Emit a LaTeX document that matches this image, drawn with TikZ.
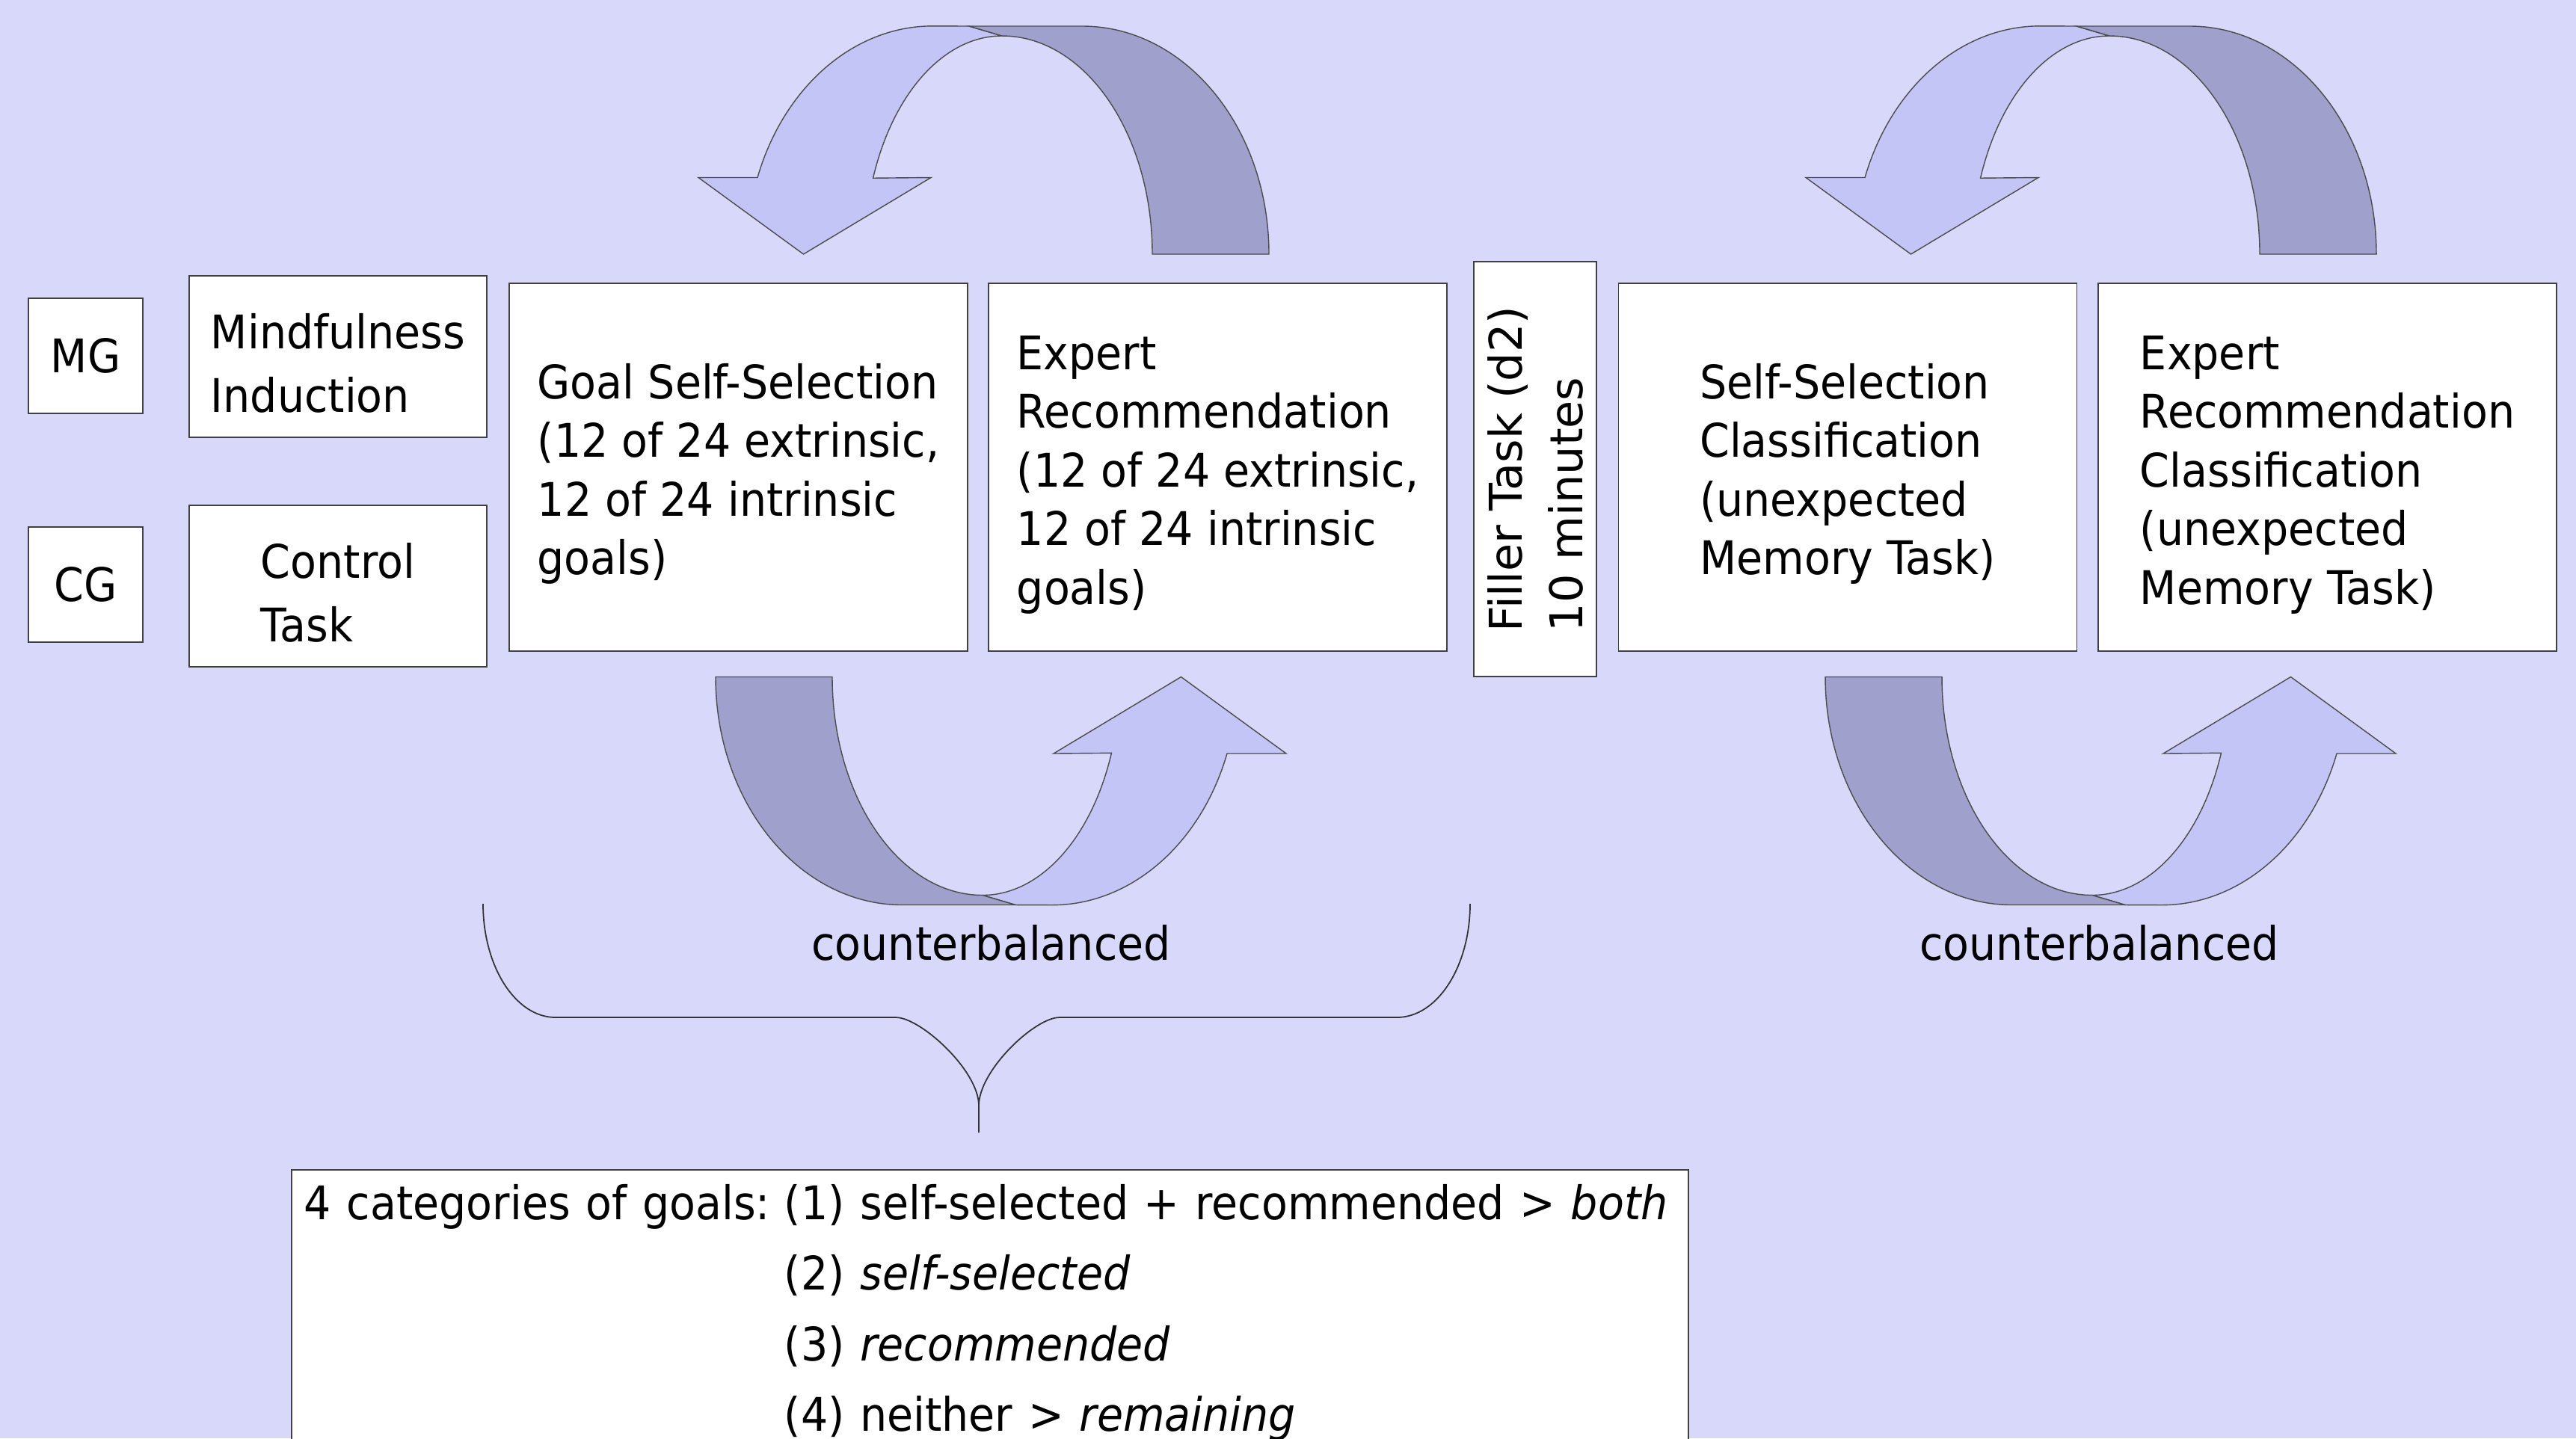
\documentclass[tikz,border=0pt]{standalone}
\usepackage{fontspec}
\setmainfont{DejaVu Sans}[FakeStretch=0.92]
\newfontfamily\fillerfamily{DejaVu Sans}

\definecolor{bgblue}{RGB}{216,217,250}
\definecolor{arrowlight}{RGB}{196,197,247}
\definecolor{arrowdark}{RGB}{159,160,204}

\newcommand{\boxtext}{\fontsize{17.64pt}{22.34pt}\selectfont}
\newcommand{\widetext}{\fontsize{17.64pt}{24.4pt}\selectfont}
\newcommand{\fillertext}{\fillerfamily\fontsize{17.2pt}{23.05pt}\selectfont}
\newcommand{\legendtext}{\fontsize{17.64pt}{26.9pt}\selectfont}
% Oberlaenge der ersten Zeile wie in PowerPoint
\newcommand{\toprule}{\rule{0pt}{0.65cm}}

% gebogener Pfeil, Ursprung = Mitte der Grundlinie
\newcommand{\uturnarrow}{%
  % helle Vorderseite mit Spitze
  \filldraw[arrowfront] (-3.27,1.025)
    arc[start angle=160.4, end angle=90, x radius=2.485, y radius=3.05]
    -- (-0.44,3.05) -- (0,2.92)
    arc[start angle=90, end angle=159.6, x radius=1.84, y radius=2.92]
    -- (-0.95,1.025) -- (-2.655,0) -- (-4.06,1.025) -- cycle;
  % dunkle Rueckseite mit Ende
  \filldraw[arrowback] (-0.44,3.05) -- (1.075,3.05)
    arc[start angle=90, end angle=0, x radius=2.495, y radius=3.05]
    -- (2.01,0)
    arc[start angle=0, end angle=90, x radius=2.01, y radius=2.92] -- cycle;
}

\begin{document}
\begin{tikzpicture}[
  box/.style={draw=black!75, line width=0.5pt, fill=white, align=left, inner sep=0pt, font=\boxtext},
  smallbox/.style={box, minimum width=1.53cm, minimum height=1.54cm},
  condbox/.style={box, font=\widetext, minimum width=3.98cm, minimum height=2.16cm},
  taskbox/.style={box, minimum width=6.13cm, minimum height=4.92cm},
  arrowfront/.style={fill=arrowlight, draw=black!70, line width=0.4pt},
  arrowback/.style={fill=arrowdark, draw=black!70, line width=0.4pt},
  bracket/.style={draw=black!80, line width=0.5pt}
]
\useasboundingbox (0,0) rectangle (34.45,-19.24);
\clip (0,0) rectangle (34.45,-19.24);
\fill[bgblue] (0,0) rectangle (34.45,-19.24);

% --- Gruppen und Induktion ---
\node[smallbox] (mg) at (1.145,-4.76) {MG};
\node[smallbox] (cg) at (1.145,-7.82) {CG};
\node[condbox] (mind) at (4.52,-4.77) {\toprule Mindfulness\\Induction};
\node[condbox] (control) at (4.52,-7.84) {\toprule Control\\Task};

% --- Zielauswahl ---
\node[taskbox] (goal) at (9.875,-6.25)
  {\toprule Goal Self-Selection\\(12 of 24 extrinsic,\\12 of 24 intrinsic\\goals)};
\node[taskbox] (expert) at (16.285,-6.25)
  {\toprule Expert\\Recommendation\\(12 of 24 extrinsic,\\12 of 24 intrinsic\\goals)};

% --- Fuellaufgabe ---
\node[box, rotate=90, font=\fillertext, minimum width=5.55cm, minimum height=1.64cm]
  (filler) at (20.53,-6.275) {Filler Task (d2)\\10 minutes};

% --- Klassifikation ---
\node[taskbox] (selfclass) at (24.71,-6.25)
  {\toprule Self-Selection\\Classification\\(unexpected\\Memory Task)};
\node[taskbox] (expertclass) at (31.125,-6.25)
  {\toprule Expert\\Recommendation\\Classification\\(unexpected\\Memory Task)};

% --- Pfeile oben ---
\begin{scope}[shift={(13.40,-3.40)}] \uturnarrow \end{scope}
\begin{scope}[shift={(28.21,-3.40)}] \uturnarrow \end{scope}
% --- Pfeile unten (gedreht) ---
\begin{scope}[shift={(13.14,-9.055)}, rotate=180] \uturnarrow \end{scope}
\begin{scope}[shift={(27.98,-9.055)}, rotate=180] \uturnarrow \end{scope}

\node[font=\boxtext, anchor=base] (cbleft) at (13.255,-12.84) {counterbalanced};
\node[font=\boxtext, anchor=base] (cbright) at (28.075,-12.84) {counterbalanced};

% --- geschweifte Klammer ---
\draw[bracket] (6.46,-12.09)
  arc[start angle=180, end angle=270, x radius=0.97, y radius=1.52]
  -- (11.98,-13.61) .. controls (12.31,-13.61) and (13.09,-14.32) .. (13.09,-14.79)
  -- (13.09,-15.15);
\draw[bracket] (13.09,-14.79) .. controls (13.09,-14.32) and (13.84,-13.61) .. (14.17,-13.61)
  -- (18.68,-13.61)
  arc[start angle=270, end angle=360, x radius=0.98, y radius=1.52];

% --- Kategorien ---
\node[box, font=\legendtext, anchor=north west, text width=18.34cm, inner xsep=0.17cm, inner ysep=0pt]
  (categories) at (3.89,-15.64)
  {\begin{tabular}{@{}p{6.42cm}@{}l@{}}
   4 categories of goals: & (1) self-selected + recommended > \textit{both}\\
   & (2) \textit{self-selected}\\
   & (3) \textit{recommended}\\
   & (4) neither > \textit{remaining}
   \end{tabular}};

\end{tikzpicture}
\end{document}
